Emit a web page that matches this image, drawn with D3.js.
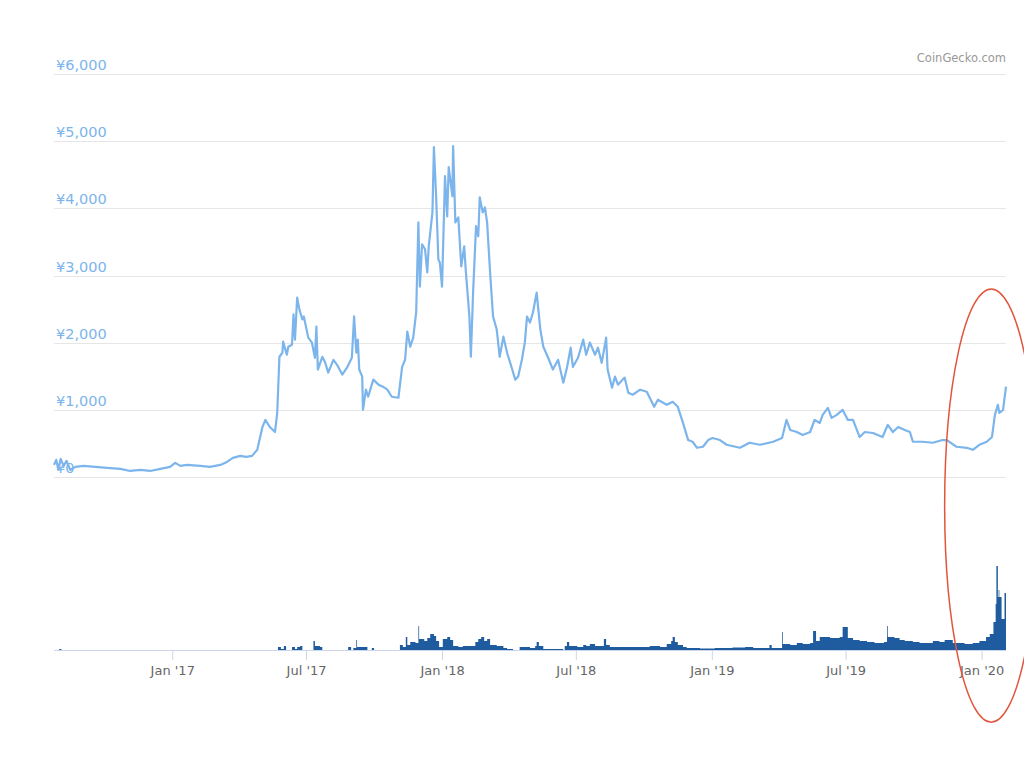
<!DOCTYPE html>
<html>
<head>
<meta charset="UTF-8">
<style>
  * { margin: 0; padding: 0; box-sizing: border-box; }
  html, body { width: 1024px; height: 768px; background: #fff; overflow: hidden; font-family: "DejaVu Sans", sans-serif; }
  svg { display: block; }
</style>
</head>
<body>
<div id="chart"></div>
<script src="https://cdn.jsdelivr.net/npm/d3@7/dist/d3.min.js"></script>
<script>
// --- data ---
var priceDates = ["2016-07-25","2016-07-28","2016-07-31","2016-08-03","2016-08-07","2016-08-11","2016-08-16","2016-08-23","2016-09-03","2016-09-19","2016-10-05","2016-10-23","2016-11-05","2016-11-19","2016-12-02","2016-12-16","2016-12-29","2017-01-05","2017-01-12","2017-01-21","2017-02-08","2017-02-21","2017-03-07","2017-03-16","2017-03-24","2017-04-03","2017-04-11","2017-04-19","2017-04-26","2017-05-03","2017-05-07","2017-05-13","2017-05-20","2017-05-23","2017-05-26","2017-05-30","2017-05-31","2017-06-05","2017-06-07","2017-06-12","2017-06-14","2017-06-16","2017-06-19","2017-06-22","2017-06-26","2017-06-28","2017-07-04","2017-07-09","2017-07-13","2017-07-15","2017-07-17","2017-07-23","2017-07-27","2017-07-31","2017-08-07","2017-08-12","2017-08-19","2017-08-26","2017-09-01","2017-09-04","2017-09-07","2017-09-09","2017-09-11","2017-09-15","2017-09-16","2017-09-20","2017-09-23","2017-09-30","2017-10-07","2017-10-13","2017-10-19","2017-10-25","2017-11-03","2017-11-08","2017-11-12","2017-11-15","2017-11-19","2017-11-23","2017-11-27","2017-11-30","2017-12-02","2017-12-05","2017-12-09","2017-12-12","2017-12-14","2017-12-19","2017-12-21","2017-12-24","2017-12-27","2017-12-29","2018-01-01","2018-01-05","2018-01-08","2018-01-10","2018-01-15","2018-01-16","2018-01-19","2018-01-23","2018-01-27","2018-01-31","2018-02-02","2018-02-07","2018-02-09","2018-02-12","2018-02-16","2018-02-19","2018-02-21","2018-02-25","2018-02-28","2018-03-03","2018-03-07","2018-03-11","2018-03-16","2018-03-20","2018-03-25","2018-03-30","2018-04-06","2018-04-10","2018-04-14","2018-04-19","2018-04-23","2018-04-26","2018-04-30","2018-05-04","2018-05-09","2018-05-14","2018-05-18","2018-05-24","2018-05-31","2018-06-07","2018-06-14","2018-06-19","2018-06-24","2018-06-27","2018-07-04","2018-07-11","2018-07-15","2018-07-20","2018-07-27","2018-07-31","2018-08-05","2018-08-11","2018-08-13","2018-08-19","2018-08-23","2018-08-27","2018-09-05","2018-09-10","2018-09-16","2018-09-26","2018-10-05","2018-10-15","2018-10-20","2018-11-01","2018-11-09","2018-11-16","2018-11-23","2018-11-30","2018-12-06","2018-12-12","2018-12-20","2018-12-27","2019-01-02","2019-01-12","2019-01-21","2019-02-08","2019-02-21","2019-03-07","2019-03-25","2019-04-06","2019-04-12","2019-04-17","2019-04-26","2019-05-04","2019-05-14","2019-05-20","2019-05-27","2019-05-31","2019-06-07","2019-06-12","2019-06-19","2019-06-27","2019-07-04","2019-07-11","2019-07-20","2019-07-27","2019-08-07","2019-08-20","2019-08-27","2019-09-03","2019-09-10","2019-09-19","2019-09-26","2019-09-30","2019-10-13","2019-10-27","2019-11-09","2019-11-15","2019-11-28","2019-12-12","2019-12-20","2019-12-29","2020-01-08","2020-01-15","2020-01-19","2020-01-23","2020-01-25","2020-01-30","2020-02-03"];
var priceValues = [180,255,105,270,165,240,105,150,165,150,135,120,90,105,90,120,150,210,165,180,165,150,180,225,285,315,300,315,405,745,850,745,670,955,1790,1850,2015,1820,1940,1970,2420,2045,2670,2495,2345,2390,2075,2000,1775,2240,1600,1790,1700,1555,1745,1670,1525,1640,1775,2390,1850,2045,1600,1495,1000,1300,1195,1450,1375,1345,1300,1195,1180,1640,1745,2165,1940,2075,2450,3790,2835,3465,3390,3045,3435,3940,4910,4180,3240,3195,2835,4480,3880,4615,4180,4925,3790,3865,3135,3435,3090,2390,1790,2745,3735,3585,4165,3940,4015,3790,3045,2390,2195,1790,2090,1850,1600,1450,1495,1745,2000,2390,2300,2450,2745,2195,1940,1790,1600,1745,1405,1625,1925,1640,1775,2045,1820,2000,1820,1925,1700,2075,1600,1330,1495,1375,1480,1255,1225,1300,1270,1045,1150,1075,1120,1045,805,550,525,435,450,550,580,550,480,435,510,480,525,580,850,700,670,625,670,850,805,925,1030,880,925,1000,850,850,595,670,655,595,775,670,745,700,670,525,525,510,550,550,450,435,405,480,525,595,925,1075,955,1000,1345];

var volumeDates = ["2016-07-25","2016-08-01","2016-08-04","2017-05-24","2017-05-28","2017-06-01","2017-06-04","2017-06-12","2017-06-16","2017-06-19","2017-06-23","2017-06-26","2017-07-11","2017-07-13","2017-07-20","2017-07-23","2017-08-27","2017-08-31","2017-09-03","2017-09-07","2017-09-08","2017-09-22","2017-09-28","2017-10-01","2017-11-05","2017-11-09","2017-11-13","2017-11-15","2017-11-19","2017-11-26","2017-11-30","2017-12-01","2017-12-08","2017-12-12","2017-12-16","2017-12-21","2017-12-24","2017-12-28","2018-01-02","2018-01-08","2018-01-12","2018-01-16","2018-01-23","2018-01-29","2018-02-12","2018-02-15","2018-02-19","2018-02-23","2018-02-27","2018-03-03","2018-03-07","2018-03-16","2018-03-25","2018-03-30","2018-04-07","2018-04-16","2018-04-30","2018-05-07","2018-05-09","2018-05-12","2018-05-18","2018-06-14","2018-06-16","2018-06-19","2018-06-22","2018-07-03","2018-07-11","2018-07-15","2018-07-20","2018-07-27","2018-08-08","2018-08-11","2018-08-16","2018-09-12","2018-10-09","2018-10-23","2018-11-01","2018-11-07","2018-11-09","2018-11-12","2018-11-16","2018-11-23","2018-11-28","2018-12-16","2019-01-05","2019-01-29","2019-02-15","2019-02-26","2019-03-18","2019-03-20","2019-03-23","2019-04-06","2019-04-07","2019-04-17","2019-04-26","2019-05-04","2019-05-14","2019-05-18","2019-05-22","2019-05-27","2019-06-10","2019-06-23","2019-06-27","2019-07-04","2019-07-11","2019-07-20","2019-07-30","2019-08-09","2019-08-22","2019-08-26","2019-08-27","2019-09-05","2019-09-12","2019-09-19","2019-09-30","2019-10-09","2019-10-27","2019-11-05","2019-11-12","2019-11-23","2019-12-09","2019-12-20","2019-12-29","2020-01-07","2020-01-12","2020-01-17","2020-01-20","2020-01-21","2020-01-23","2020-01-24","2020-01-25","2020-01-28","2020-02-01","2020-02-03"];
// relative volume (no scale shown on the chart)
var volumeValues = [0,1,0,3,1,4,0,3,1,3,4,0,9,4,3,0,3,0,2,10,3,0,2,0,5,3,13,5,8,7,24,11,9,12,16,14,9,3,11,13,10,4,3,4,4,8,11,13,9,11,5,4,2,1,0,3,2,4,8,4,1,0,4,8,4,3,5,4,6,4,11,5,3,3,4,3,6,9,13,8,5,3,2,1.5,2,2.5,3,2,2,5,2,18,6,5,7,6,7,19,9,13,12,13,23,12,10,9,8,7,8,24,13,12,10,9,8,7,9,8,10,7,6,7,9,13,16,28,46,84,53,60,53,31,57,57];

var yTicks = [0, 1000, 2000, 3000, 4000, 5000, 6000];
var xTickDates = ["2017-01-01","2017-07-01","2018-01-01","2018-07-01","2019-01-01","2019-07-01","2020-01-01"];
var creditText = "CoinGecko.com";

// red hand-drawn ring around the recent surge
var highlightFrom = "2019-11-12", highlightTo = "2020-03-17";
var highlightTop = 2800, highlightBottom = -3650;

// --- drawing ---
var parse = d3.timeParse("%Y-%m-%d");
var price = priceDates.map(function(d, i) { return { date: parse(d), value: priceValues[i] }; });
var volume = volumeDates.map(function(d, i) { return { date: parse(d), value: volumeValues[i] }; });

var W = 1024, H = 768;
var left = 54, right = 1006;

var svg = d3.select("#chart").append("svg").attr("width", W).attr("height", H);

var x = d3.scaleTime()
  .domain([price[0].date, price[price.length - 1].date])
  .range([left, right]);
var y = d3.scaleLinear().domain([0, 6000]).range([477, 74]);
var yVol = d3.scaleLinear().domain([0, 100]).range([650, 550]);

// grid + y labels
var grid = svg.append("g");
grid.selectAll("line").data(yTicks).enter().append("line")
  .attr("x1", left).attr("x2", right)
  .attr("y1", function(d) { return Math.round(y(d)) + 0.5; })
  .attr("y2", function(d) { return Math.round(y(d)) + 0.5; })
  .attr("stroke", "#e6e6e6").attr("stroke-width", 1);

grid.selectAll("text").data(yTicks).enter().append("text")
  .attr("x", left + 2)
  .attr("y", function(d) { return y(d) - 4; })
  .attr("font-size", "14.5px")
  .attr("fill", "#7cb5ec")
  .text(function(d) { return "¥" + d3.format(",")(d); });

svg.append("text")
  .attr("x", right).attr("y", 62)
  .attr("text-anchor", "end")
  .attr("font-size", "11.5px")
  .attr("fill", "#999")
  .text(creditText);

// volume
svg.append("path")
  .datum(volume)
  .attr("fill", "#1f5c9f")
  .attr("d", d3.area()
    .curve(d3.curveStepAfter)
    .x(function(d) { return x(d.date); })
    .y0(yVol(0))
    .y1(function(d) { return yVol(d.value); }));

// x axis
var xAxis = d3.axisBottom(x)
  .tickValues(xTickDates.map(parse))
  .tickFormat(d3.timeFormat("%b '%y"))
  .tickSize(10)
  .tickPadding(6);

var ax = svg.append("g").attr("transform", "translate(0,650)").call(xAxis);
ax.select(".domain").attr("stroke", "#ccd6eb").attr("d", "M" + left + ",0.5H" + right);
ax.selectAll(".tick line").attr("stroke", "#ccd6eb");
ax.selectAll(".tick text").attr("fill", "#666").attr("font-size", "13px").attr("font-family", "DejaVu Sans, sans-serif");

// price line
svg.append("path")
  .datum(price)
  .attr("fill", "none")
  .attr("stroke", "#7cb5ec")
  .attr("stroke-width", 2.2)
  .attr("stroke-linejoin", "round")
  .attr("d", d3.line()
    .x(function(d) { return x(d.date); })
    .y(function(d) { return y(d.value); }));

// annotation ring
var hx0 = x(parse(highlightFrom)), hx1 = x(parse(highlightTo));
var hy0 = y(highlightTop), hy1 = y(highlightBottom);
svg.append("ellipse")
  .attr("cx", (hx0 + hx1) / 2)
  .attr("cy", (hy0 + hy1) / 2)
  .attr("rx", (hx1 - hx0) / 2)
  .attr("ry", (hy1 - hy0) / 2)
  .attr("fill", "none")
  .attr("stroke", "#e2553d")
  .attr("stroke-width", 1.5);
</script>
</body>
</html>
